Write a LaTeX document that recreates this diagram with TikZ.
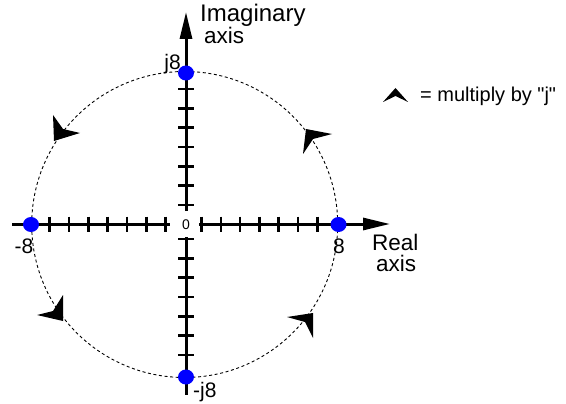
\documentclass[tikz,border=0pt]{standalone}
\usepackage{fontspec}
\setmainfont{Liberation Sans}[Ligatures=TeXOff]
\usetikzlibrary{arrows.meta,shapes.geometric}
\begin{document}
\begin{tikzpicture}[x=1pt,y=-1pt,
  axisline/.style={line width=3pt, draw=black},
  axisarrow/.style={axisline, -{Triangle[length=27pt,width=12pt]}},
  tickmark/.style={line width=2.6pt, draw=black},
  bluedot/.style={ellipse, fill=blue, inner sep=0pt, minimum width=16pt, minimum height=15pt},
  dashcircle/.style={draw=black, line width=0.9pt, dash pattern=on 3pt off 2.6pt},
  ccwarrow/.style={fill=black, draw=none},
  numlbl/.style={inner sep=0pt, font=\fontsize{21}{21}\selectfont},
  axislbl/.style={inner sep=0pt, align=left, font=\fontsize{22.5}{21}\selectfont},
  legendlbl/.style={inner sep=0pt, font=\fontsize{20}{20}\selectfont},
  zerolbl/.style={inner sep=0pt, font=\fontsize{14}{14}\selectfont}]
\useasboundingbox (0,0) rectangle (566,404);
% circle
\coordinate (ctr) at (184.7,224.5);
\draw[dashcircle] (ctr) circle[radius=153];
% axes
\coordinate (xl) at (12,224);
\coordinate (xlend) at (170,224);
\coordinate (xrstart) at (199,224);
\coordinate (xtip) at (390,224);
\coordinate (ytip) at (186,12);
\coordinate (ytend) at (186,211);
\coordinate (ybstart) at (186,237);
\coordinate (yb) at (186,395);
\draw[axisline] (xl) -- (xlend);
\draw[axisarrow] (xrstart) -- (xtip);
\draw[axisarrow] (ytend) -- (ytip);
\draw[axisline] (ybstart) -- (yb);
% ticks
\foreach \k in {1,...,7}{
  \pgfmathsetmacro{\xr}{183.5+18+19.3*(\k-1)}
  \pgfmathsetmacro{\xlft}{183.5-18-19.3*(\k-1)}
  \pgfmathsetmacro{\yt}{222-17-19.3*(\k-1)}
  \pgfmathsetmacro{\yb}{222+17+19.3*(\k-1)}
  \draw[tickmark] (\xr,216.5) -- (\xr,231.5);
  \draw[tickmark] (\xlft,216.5) -- (\xlft,231.5);
  \draw[tickmark] (178,\yt) -- (194,\yt);
  \draw[tickmark] (178,\yb) -- (194,\yb);
}
% dots
\node[bluedot] (p8) at (338.5,224.5) {};
\node[bluedot] (m8) at (31,224.5) {};
\node[bluedot] (j8) at (186,73) {};
\node[bluedot] (mj8) at (186,377) {};
% rotation arrows
\fill[ccwarrow] (53,115) -- (63,129) -- (80,133) -- (54,141) -- cycle;
\fill[ccwarrow] (306,129) -- (332,134) -- (313,139) -- (303,154) -- cycle;
\fill[ccwarrow] (63,295) -- (53,311) -- (37,315) -- (63,321) -- cycle;
\fill[ccwarrow] (287,317) -- (313,313) -- (313,338) -- (305,322) -- cycle;
% labels
\node[zerolbl] (zero) at (186,224.5) {0};
\node[numlbl, anchor=base] (lm8) at (24,253) {-8};
\node[numlbl, anchor=base] (lp8) at (339,254) {8};
\node[numlbl, anchor=base east] (lj8) at (181,70) {j8};
\node[numlbl, anchor=base west] (lmj8) at (193,397) {-j8};
\node[axislbl, anchor=north west] (imag) at (200,4) {{\fontsize{24}{20}\selectfont Imaginary}\\\hspace*{4pt}axis};
\node[axislbl, anchor=north west] (real) at (372,234) {Real\\\hspace*{4pt}axis};
% legend
\fill[ccwarrow] (395.5,88) -- (408,102) -- (395.5,96) -- (383,102) -- cycle;
\node[legendlbl, anchor=base west] (legend) at (420,102) {= multiply by "j"};
\end{tikzpicture}
\end{document}
